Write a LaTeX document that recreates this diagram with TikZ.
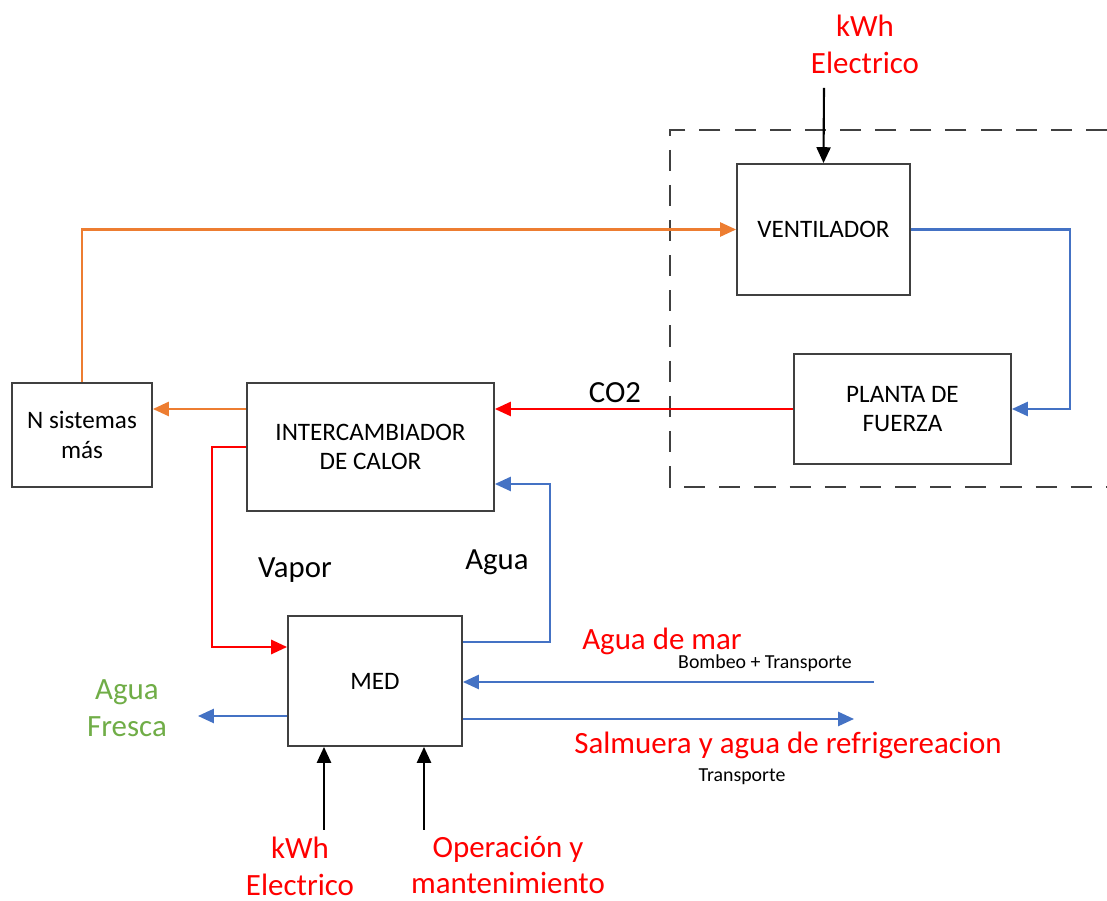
\documentclass[tikz,border=0pt]{standalone}
\usepackage{fontspec}
\setmainfont{Carlito}
\usetikzlibrary{arrows.meta, positioning, calc}
\definecolor{flowred}{HTML}{FF0000}
\definecolor{flowblue}{HTML}{4472C4}
\definecolor{floworange}{HTML}{ED7D31}
\definecolor{flowgreen}{HTML}{70AD47}
\definecolor{boxgray}{HTML}{404040}

\begin{document}
\begin{tikzpicture}[
  x=0.02cm, y=-0.02cm,
  procbox/.style={rectangle, draw=boxgray, line width=1.1pt, fill=white, align=center, inner sep=0pt, font=\fontsize{14.3}{17}\selectfont},
  redlabel/.style={text=flowred, align=center, font=\fontsize{17.6}{21}\selectfont},
  blacklabel/.style={align=center, font=\fontsize{17.5}{21}\selectfont},
  smalllabel/.style={font=\fontsize{11.3}{12}\selectfont},
  flow/.style={line width=1.2pt, -{Triangle[length=9pt,width=8pt]}}
]
  \useasboundingbox (0,0) rectangle (1107,901);

  % Dashed frame round fan and power plant
  \draw[boxgray, line width=1.1pt, dash pattern=on 12pt off 8pt] (1107,130) -- (670,130) -- (670,487) -- (1107,487);

  % Process boxes
  \node[procbox, minimum width=3.46cm, minimum height=2.62cm] (ventilador) at (823.5,229.5) {VENTILADOR};
  \node[procbox, minimum width=4.34cm, minimum height=2.2cm] (planta) at (902.5,409) {PLANTA DE\\FUERZA};
  \node[procbox, minimum width=4.94cm, minimum height=2.56cm] (intercambiador) at (370.5,447) {INTERCAMBIADOR\\DE CALOR};
  \node[procbox, minimum width=2.8cm, minimum height=2.08cm] (nsistemas) at (82,435) {N sistemas\\más};
  \node[procbox, minimum width=3.48cm, minimum height=2.6cm] (med) at (375,681) {MED};

  % Free ends of the connectors
  \coordinate (kwhtop) at (824,88);
  \coordinate (aguaturn) at (550,484);
  \coordinate (marin) at (874,682);
  \coordinate (salout) at (854,719);
  \coordinate (frescaout) at (198,716);
  \coordinate (kwhbot) at (324,830);
  \coordinate (opbot) at (424,830);

  % Connectors
  \draw[flow] (kwhtop) -- (ventilador.north);
  \draw[flow, floworange] (nsistemas.north) |- (ventilador.west);
  \draw[flow, flowblue] (ventilador.east) -- ++(159,0) |- (planta.east);
  \draw[flow, flowred] (planta.west) -- (intercambiador.east |- planta.west);
  \draw[flow, floworange] (intercambiador.west |- planta.west) -- (nsistemas.east |- planta.west);
  \draw[flow, flowred, line width=1.4pt] (intercambiador.west) -- ++(-34,0) |- ([yshift=0.68cm]med.west);
  \draw[flow, flowblue] ([yshift=0.78cm]med.east) -| (aguaturn) -- (intercambiador.east |- aguaturn);
  \draw[flow, flowblue] (marin) -- (med.east |- marin);
  \draw[flow, flowblue] (med.east |- salout) -- (salout);
  \draw[flow, flowblue] (med.west |- frescaout) -- (frescaout);
  \draw[flow] (kwhbot) -- (med.south -| kwhbot);
  \draw[flow] (opbot) -- (med.south -| opbot);

  % Labels
  \node[redlabel] (kwhtoplbl) at (865,44) {kWh\\Electrico};
  \node[blacklabel] (co2lbl) at (615,393) {CO2};
  \node[blacklabel] (vaporlbl) at (295,570) {Vapor};
  \node[blacklabel] (agualbl) at (497,562) {Agua};
  \node[redlabel] (marlbl) at (662,641) {Agua de mar};
  \node[smalllabel] (bombeolbl) at (765,663) {Bombeo + Transporte};
  \node[redlabel] (salmueralbl) at (788,745) {Salmuera y agua de refrigereacion};
  \node[smalllabel] (transportelbl) at (742,777) {Transporte};
  \node[redlabel] (kwhbotlbl) at (300,866) {kWh\\Electrico};
  \node[redlabel] (oplbl) at (508,865) {Operación y\\mantenimiento};
  \node[redlabel, text=flowgreen] (frescalbl) at (127,708) {Agua\\Fresca};
\end{tikzpicture}
\end{document}
